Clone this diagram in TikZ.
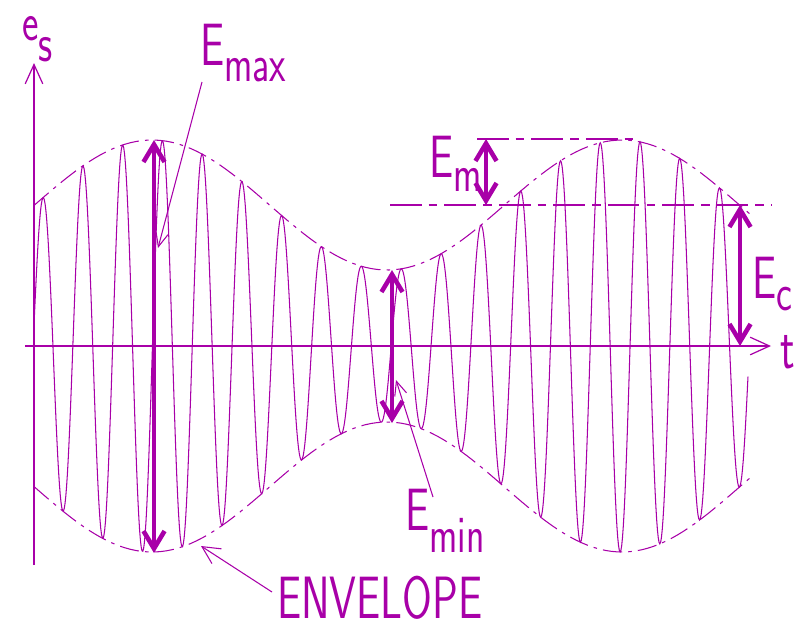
\documentclass[tikz,border=0pt]{standalone}
\usepackage{fontspec}
\usetikzlibrary{arrows.meta}
\definecolor{signal}{HTML}{A800A8}
\newcommand{\lowsub}[2][9.5pt]{\raisebox{-#1}{\fontsize{30}{30}\selectfont #2}}

\begin{document}
\begin{tikzpicture}[
    x=0.02cm, y=-0.02cm,
    axis/.style={draw=signal, line width=0.7pt, ->, >={Straight Barb[length=11pt, width=10pt]}},
    carrier/.style={draw=signal, line width=0.6pt},
    envelope/.style={draw=signal, line width=0.6pt, dash pattern=on 11pt off 3.5pt on 2pt off 3.5pt},
    level/.style={draw=signal, line width=0.6pt, dash pattern=on 18pt off 4pt on 5pt off 4pt},
    measure/.style={draw=signal, line width=2.6pt, <->, >={Straight Barb[length=10pt, width=12pt]}},
    leader/.style={draw=signal, line width=0.6pt, ->, >={Straight Barb[length=8pt, width=7pt]}},
    lbl/.style={text=signal, font=\sffamily\fontsize{34}{34}\selectfont, inner sep=0pt, xscale=0.72, anchor=base west}
]
\useasboundingbox (0,0) rectangle (801,627);

% Axes
\coordinate (yBot) at (34,565);
\coordinate (yTop) at (34,63);
\coordinate (xL) at (25,346);
\coordinate (xR) at (771,346);
\draw[axis] (yBot) -- (yTop);
\draw[axis] (xL) -- (xR);
\node[lbl, font=\sffamily\fontsize{31}{31}\selectfont] (es) at (22,40) {e\raisebox{-12pt}{s}};
\node[lbl] (t) at (780,368) {t};

% Envelope (upper and lower)
\draw[envelope] plot[domain=34:750, samples=120]
    (\x, {346 - (141 + 65*cos((\x-152)/470*360))});
\draw[envelope] plot[domain=34:750, samples=120]
    (\x, {346 + (141 + 65*cos((\x-152)/470*360))});

% Modulated carrier
\draw[carrier] plot[domain=34:748, samples=900]
    (\x, {346 - (141 + 65*cos((\x-152)/470*360))*cos((\x-43)/39.8*360)});

% Reference levels
\coordinate (emL) at (477,139);
\coordinate (emR) at (637,139);
\coordinate (ecL) at (390,205);
\coordinate (ecR) at (772,205);
\draw[level] (emL) -- (emR);
\draw[level] (ecL) -- (ecR);

% Measures
\coordinate (maxT) at (154,140);
\coordinate (maxB) at (154,553);
\coordinate (minT) at (392,270);
\coordinate (minB) at (392,423);
\coordinate (mT) at (486,139);
\coordinate (mB) at (486,205);
\coordinate (cT) at (740,205);
\coordinate (cB) at (740,346);
\draw[measure] (maxT) -- (maxB);
\draw[measure] (minT) -- (minB);
\draw[measure] (mT) -- (mB);
\draw[measure] (cT) -- (cB);

% Labels
\node[lbl] (lmax) at (200,65) {E\lowsub{max}};
\node[lbl] (lm) at (429,177) {E\lowsub[8.5pt]{m}};
\node[lbl] (lc) at (752,298) {E\lowsub[7pt]{c}};
\node[lbl] (lmin) at (405,530) {E\lowsub[13pt]{min}};
\node[lbl] (lenv) at (277,618) {ENVELOPE};

% Leaders
\coordinate (maxFrom) at (202,82);
\coordinate (maxTo) at (158,248);
\coordinate (minFrom) at (433,497);
\coordinate (minTo) at (396,380);
\coordinate (envFrom) at (272,592);
\coordinate (envTo) at (201,546);
\draw[leader] (maxFrom) -- (maxTo);
\draw[leader] (minFrom) -- (minTo);
\draw[leader, >={Straight Barb[length=10pt, width=10pt]}] (envFrom) -- (envTo);

\end{tikzpicture}
\end{document}
